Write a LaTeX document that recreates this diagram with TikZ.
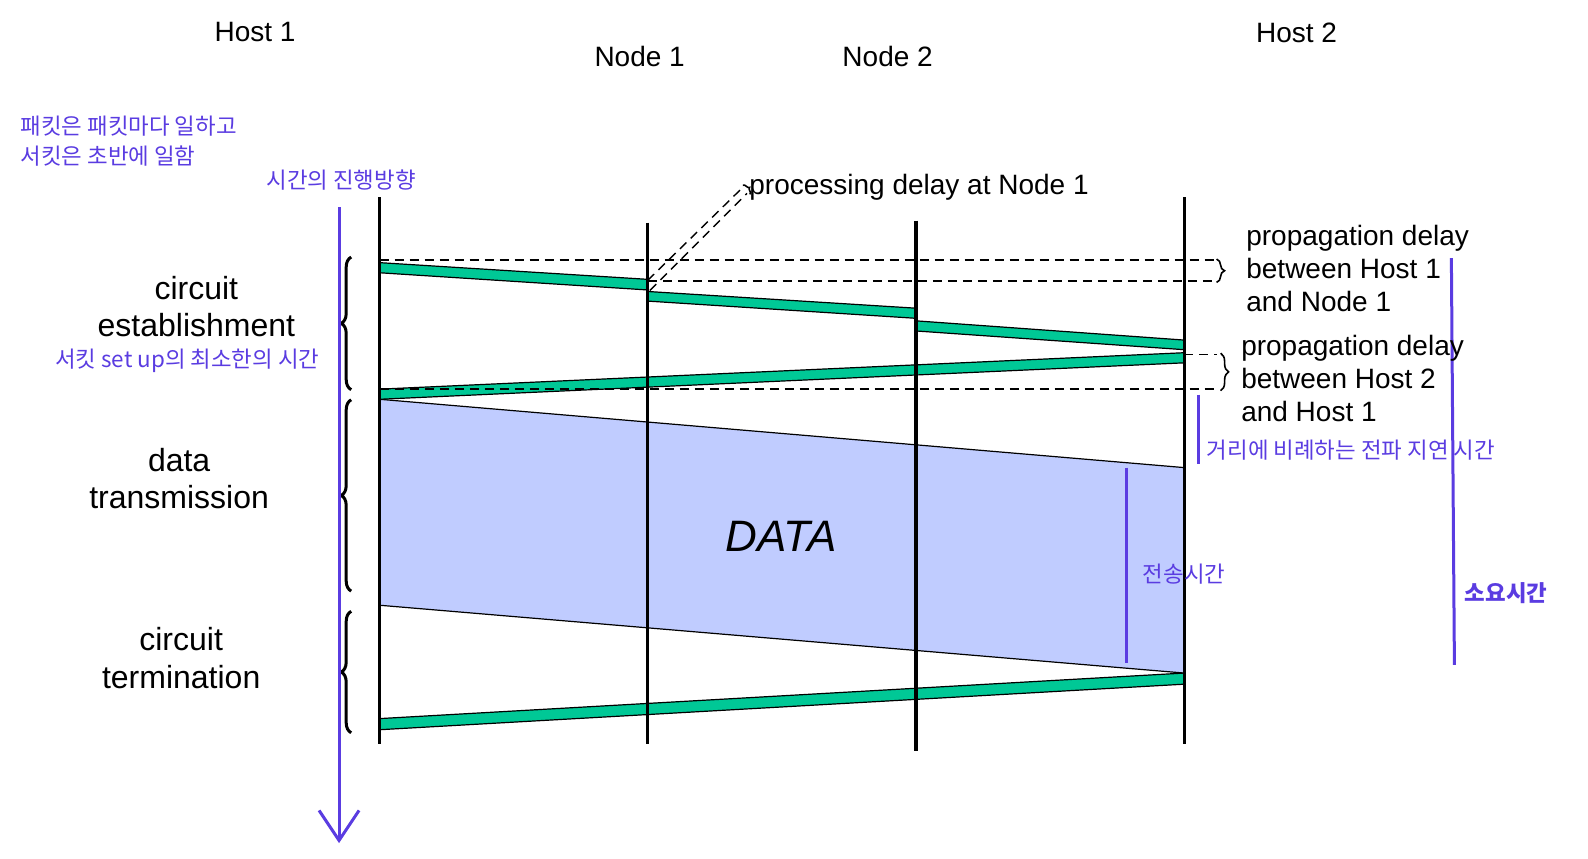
\documentclass[tikz,border=0pt]{standalone}
\usepackage{fontspec}
\setmainfont{Liberation Sans}
\newfontfamily\korfont{Noto Sans CJK KR}
\usetikzlibrary{arrows.meta,decorations.pathreplacing}
\definecolor{bandgreen}{RGB}{0,200,150}
\definecolor{datablue}{RGB}{192,204,255}
\definecolor{noteblue}{RGB}{90,60,225}

\begin{document}
\begin{tikzpicture}[x=0.506pt,y=-0.506pt,
                    band/.style={fill=bandgreen,draw=black,line width=0.6pt},
                    hostline/.style={line width=1.6pt},
                    dashln/.style={dash pattern=on 4.5pt off 3pt,line width=0.7pt},
                    brc/.style={decorate,decoration={brace,amplitude=#1},line width=1.5pt},
                    brc/.default=5pt,
                    noteline/.style={draw=noteblue,line width=1.5pt},
                    kortext/.style={font=\korfont\fontsize{11.2}{14.7}\selectfont,text=noteblue,inner sep=0pt},
                    lbl/.style={font=\fontsize{14}{16.4}\selectfont,inner sep=0pt},
                    phase/.style={font=\fontsize{16}{18.7}\selectfont,align=center,inner sep=0pt}]
                    \useasboundingbox (0,0) rectangle (1569,848);

                    \fill[datablue] (375,394.5) -- (1170,462) -- (1170,665) -- (375,598) -- cycle;
                    \draw[line width=0.6pt] (375,394.5) -- (1170,462)
                                            (375,598) -- (1170,665);

                    \draw[band] (375,259.5) -- (640,276) -- (640,286.5) -- (375,269.5) -- cycle;
                    \draw[band] (640,288) -- (905,304.5) -- (905,314.5) -- (640,297.5) -- cycle;
                    \draw[band] (905,317) -- (1170,336) -- (1170,345.5) -- (905,327) -- cycle;
                    \draw[band] (1170,348.5) -- (375,384.5) -- (375,394.5) -- (1170,358.5) -- cycle;
                    \draw[band] (1170,665) -- (375,710) -- (375,721) -- (1170,676) -- cycle;

                    \foreach \x/\top/\bot in {375/195/735, 640/220/735, 905/218/742, 1170/195/735}
                        \draw[hostline] (\x,\top) -- (\x,\bot);

                    \draw[dashln] (375,257) -- (1199,257)
                                  (640,277.5) -- (1199,277.5);
                    \draw[dashln] (1170,350) -- (1202,350)
                                  (375,384.5) -- (1202,384.5);
                    \draw[dashln] (640,277) -- (733,186)
                                  (642,287) -- (738,191);

                    \draw[decorate,decoration={brace,amplitude=4pt},line width=0.8pt] (1202,256) -- (1202,279);
                    \draw[decorate,decoration={brace,amplitude=4pt},line width=0.8pt] (1206,349) -- (1206,386);
                    \draw[decorate,decoration={brace,amplitude=2pt},line width=0.8pt] (734,183) -- (741,192);

                    \draw[brc] (347,385) -- (347,254);
                    \draw[brc] (347,584) -- (347,395);
                    \draw[brc] (347,724) -- (347,604);

                    \draw[noteline,-{Straight Barb[length=15pt,width=20pt]}] (335,205) -- (335,833);
                    \draw[noteline] (1184,390) -- (1184,458);
                    \draw[noteline] (1113,462) -- (1113,655);
                    \draw[noteline] (1434,255) -- (1437,657);

                    \node[lbl] (host1) at (252,32) {Host 1};
                    \node[lbl] (node1) at (632,56) {Node 1};
                    \node[lbl] (node2) at (877,56) {Node 2};
                    \node[lbl] (host2) at (1281,32) {Host 2};
                    \node[lbl,anchor=west] (proc) at (740,185) {processing delay at Node 1};
                    \node[lbl,anchor=west,align=left] (prop1) at (1231,265) {propagation delay\\between Host 1\\and Node 1};
                    \node[lbl,anchor=west,align=left] (prop2) at (1226,374) {propagation delay\\between Host 2\\and Host 1};

                    \node[phase] (setup) at (194,303) {circuit\\establishment};
                    \node[phase] (xfer) at (177,473) {data\\transmission};
                    \node[phase] (teardown) at (179,650) {circuit\\termination};
                    \node[font=\fontsize{22}{26}\selectfont\itshape,inner sep=0pt] (data) at (772,530) {DATA};

                    \node[kortext,anchor=west,align=left] (note) at (20,139.5) {패킷은 패킷마다 일하고\\서킷은 초반에 일함};
                    \node[kortext] (timedir) at (337,178) {시간의 진행방향};
                    \node[kortext] (setupmin) at (185,356) {서킷 set up의 최소한의 시간};
                    \node[kortext,anchor=west] (propnote) at (1192,445) {거리에 비례하는 전파 지연 시간};
                    \node[kortext] (txtime) at (1170,567) {전송시간};
                    \node[kortext,font=\korfont\bfseries\fontsize{11.2}{14.7}\selectfont] (total) at (1488,586) {소요시간};

                \end{tikzpicture}
\end{document}
